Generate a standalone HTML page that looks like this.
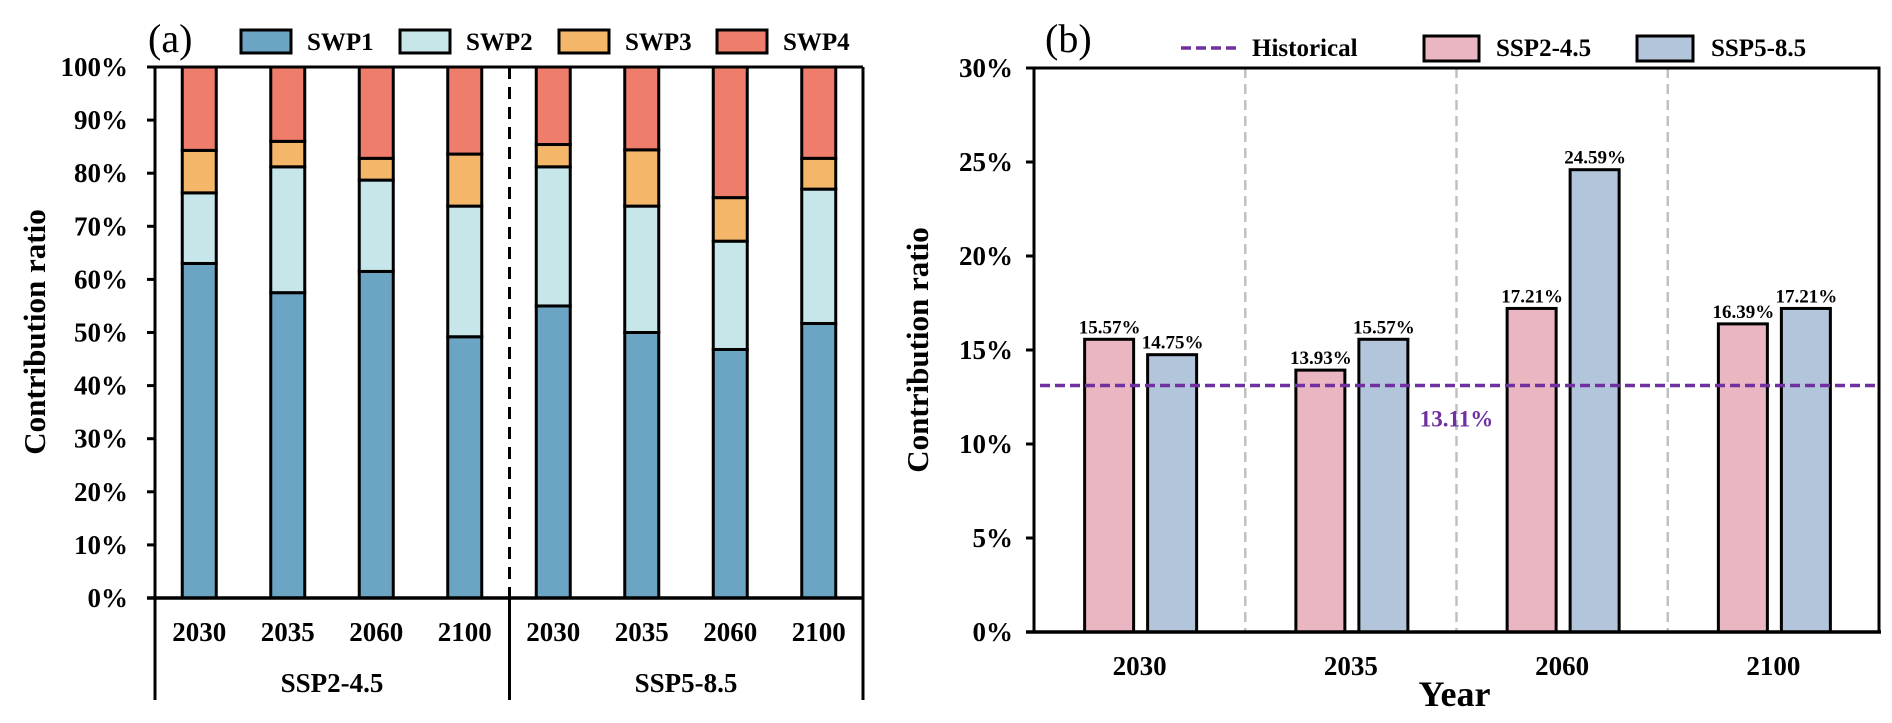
<!DOCTYPE html>
<html><head><meta charset="utf-8"><style>
html,body{margin:0;padding:0;background:#fff;}
svg{display:block;font-family:"Liberation Serif",serif;}
</style></head><body>
<svg id="fig" width="1892" height="723" viewBox="0 0 1892 723" xmlns="http://www.w3.org/2000/svg"></svg>
<script>
// Panel (a) data
const yearsA = ["2030","2035","2060","2100","2030","2035","2060","2100"];
const scenariosA = ["SSP2-4.5","SSP5-8.5"];
const swp1 = [63.0,57.5,61.5,49.2,55.0,50.0,46.8,51.7];
const swp2 = [13.3,23.7,17.2,24.6,26.2,23.8,20.4,25.3];
const swp3 = [8.0,4.8,4.1,9.8,4.2,10.6,8.2,5.8];
const swp4 = [15.7,14.0,17.2,16.4,14.6,15.6,24.6,17.2];
const seriesNamesA = ["SWP1","SWP2","SWP3","SWP4"];
const ticksA = [0,10,20,30,40,50,60,70,80,90,100];
// Panel (b) data
const yearsB = ["2030","2035","2060","2100"];
const ssp245 = [15.57,13.93,17.21,16.39];
const ssp585 = [14.75,15.57,24.59,17.21];
const historical = 13.11;
const ticksB = [0,5,10,15,20,25,30];

const svg = document.getElementById('fig');
const NS = "http://www.w3.org/2000/svg";
function mk(tag, attrs, parent){const e=document.createElementNS(NS,tag);for(const k in attrs)e.setAttribute(k,attrs[k]);(parent||svg).appendChild(e);return e;}
function txt(s, attrs, parent){const e=mk('text',attrs,parent);e.textContent=s;return e;}

// ---------- Panel (a) ----------
const aL=155,aR=863,aT=67,aB=598;
const yA=v=>aB-(v/100)*(aB-aT);
const bandA=(aR-aL)/8;
const xA=i=>aL+bandA*(i+0.5);
const colsA=["#6ba5c3","#c6e6ea","#f4b76a","#ee7d6c"];
const dataA=[swp1,swp2,swp3,swp4];
const gA=mk('g',{});


for(let i=0;i<8;i++){
  let base=0;
  for(let s=0;s<4;s++){
    const v=dataA[s][i];
    const r=mk('rect',{x:xA(i)-17,y:yA(base+v),width:34,height:yA(base)-yA(base+v),fill:colsA[s],stroke:"#000","stroke-width":3},gA);
    
    
    base+=v;
  }
}
mk('line',{x1:aL,y1:aT,x2:aR,y2:aT,stroke:"#000","stroke-width":3},gA);
mk('line',{x1:aL,y1:aT,x2:aL,y2:700,stroke:"#000","stroke-width":3},gA);
mk('line',{x1:aR,y1:aT,x2:aR,y2:700,stroke:"#000","stroke-width":3},gA);
mk('line',{x1:147,y1:aB,x2:aR,y2:aB,stroke:"#000","stroke-width":3.5},gA);
mk('line',{x1:(aL+aR)/2+0.5,y1:aT,x2:(aL+aR)/2+0.5,y2:aB,stroke:"#000","stroke-width":3,"stroke-dasharray":"12,8"},gA);
mk('line',{x1:(aL+aR)/2+0.5,y1:aB,x2:(aL+aR)/2+0.5,y2:700,stroke:"#000","stroke-width":3},gA);
ticksA.forEach(t=>{
  mk('line',{x1:147,y1:yA(t),x2:aL,y2:yA(t),stroke:"#000","stroke-width":3},gA);
  const e=txt(t+"%",{x:128,y:yA(t)+9,"text-anchor":"end","font-size":27,"font-weight":"bold"},gA);
  
  
});
yearsA.forEach((y,i)=>{
  const e=txt(y,{x:xA(i),y:641,"text-anchor":"middle","font-size":27,"font-weight":"bold"},gA);
  
  
});
scenariosA.forEach((s,k)=>{
  const e=txt(s,{x:aL+(aR-aL)*(0.25+0.5*k),y:692,"text-anchor":"middle","font-size":27,"font-weight":"bold"},gA);
  
  
});
{const e=txt("Contribution ratio",{x:0,y:0,transform:"translate(45,332) rotate(-90)","text-anchor":"middle","font-size":31,"font-weight":"bold"},gA);
}
{const e=txt("(a)",{x:148,y:52,"font-size":40},gA);
}
const legX=[241,400,559,717];
seriesNamesA.forEach((n,s)=>{
  const r=mk('rect',{x:legX[s],y:30,width:50,height:23,fill:colsA[s],stroke:"#000","stroke-width":3},gA);
  
  
  const e=txt(n,{x:legX[s]+66,y:50,"font-size":25,"font-weight":"bold"},gA);
  
  
});

// ---------- Panel (b) ----------
const bL=1034,bR=1879,bT=68,bB=632;
const yB=v=>bB-(v/30)*(bB-bT);
const bandB=(bR-bL)/4;
const xB=i=>bL+bandB*(i+0.5);
const gB=mk('g',{});


for(let i=1;i<4;i++){
  mk('line',{x1:bL+bandB*i,y1:bT,x2:bL+bandB*i,y2:bB,stroke:"#c0c0c0","stroke-width":2.5,"stroke-dasharray":"10,6"},gB);
}
const pink="#e9b6c1",blue="#b3c5da";
yearsB.forEach((y,i)=>{
  const c=xB(i);
  const r1=mk('rect',{x:c-55,y:yB(ssp245[i]),width:49,height:bB-yB(ssp245[i]),fill:pink,stroke:"#000","stroke-width":3},gB);
  
  
  const r2=mk('rect',{x:c+8,y:yB(ssp585[i]),width:49,height:bB-yB(ssp585[i]),fill:blue,stroke:"#000","stroke-width":3},gB);
  
  
  const l1=txt(ssp245[i].toFixed(2)+"%",{x:c-30,y:yB(ssp245[i])-6,"text-anchor":"middle","font-size":19,"font-weight":"bold"},gB);
  
  
  const l2=txt(ssp585[i].toFixed(2)+"%",{x:c+33,y:yB(ssp585[i])-6,"text-anchor":"middle","font-size":19,"font-weight":"bold"},gB);
  
  
  const xl=txt(y,{x:c,y:675,"text-anchor":"middle","font-size":27,"font-weight":"bold"},gB);
  
  
});
{const h=mk('line',{x1:bL+6,y1:yB(historical),x2:bR-4,y2:yB(historical),stroke:"#7030a0","stroke-width":3.5,"stroke-dasharray":"10,5"},gB);

const hl=txt(historical.toFixed(2)+"%",{x:bL+bandB*2,y:yB(historical)+41,"text-anchor":"middle","font-size":23,"font-weight":"bold",fill:"#7030a0"},gB);
}
mk('rect',{x:bL,y:bT,width:bR-bL,height:bB-bT,fill:"none",stroke:"#000","stroke-width":3},gB);
mk('line',{x1:bL-8,y1:bB,x2:bR+2,y2:bB,stroke:"#000","stroke-width":3.5},gB);
ticksB.forEach(t=>{
  mk('line',{x1:bL-8,y1:yB(t),x2:bL,y2:yB(t),stroke:"#000","stroke-width":3},gB);
  const e=txt(t+"%",{x:1013,y:yB(t)+9,"text-anchor":"end","font-size":27,"font-weight":"bold"},gB);
  
  
});
{const e=txt("Contribution ratio",{x:0,y:0,transform:"translate(928,350) rotate(-90)","text-anchor":"middle","font-size":31,"font-weight":"bold"},gB);
}
{const e=txt("Year",{x:bL+bandB*2-2,y:706,"text-anchor":"middle","font-size":36,"font-weight":"bold"},gB);
}
{const e=txt("(b)",{x:1045,y:52,"font-size":40},gB);
}
{const l=mk('line',{x1:1181,y1:48,x2:1236,y2:48,stroke:"#7030a0","stroke-width":3.5,"stroke-dasharray":"10,5"},gB);

const e=txt("Historical",{x:1252,y:56,"font-size":25,"font-weight":"bold"},gB);

const r1=mk('rect',{x:1424,y:36,width:55,height:25,fill:pink,stroke:"#000","stroke-width":3},gB);

const e1=txt("SSP2-4.5",{x:1496,y:56,"font-size":25,"font-weight":"bold"},gB);

const r2=mk('rect',{x:1637,y:36,width:56,height:25,fill:blue,stroke:"#000","stroke-width":3},gB);

const e2=txt("SSP5-8.5",{x:1711,y:56,"font-size":25,"font-weight":"bold"},gB);
}
</script>
</body></html>
